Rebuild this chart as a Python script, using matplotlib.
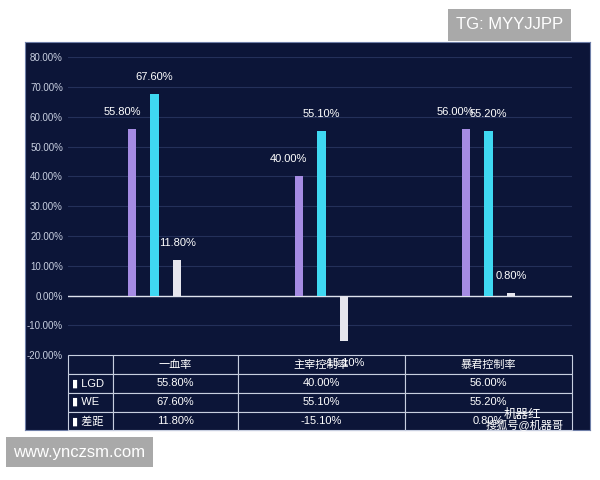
import matplotlib.pyplot as plt
import numpy as np

plt.rcParams['font.family'] = ['Liberation Sans', 'Noto Sans CJK SC', 'DejaVu Sans']

categories = ['一血率', '主宰控制率', '暴君控制率']
lgd = [55.8, 40.0, 56.0]
we = [67.6, 55.1, 55.2]
diff = [11.8, -15.1, 0.8]
series = ['LGD', 'WE', '差距']
colors = ['#a58be3', '#3fd8f2', '#e6e6ee']
yticks = [-20, -10, 0, 10, 20, 30, 40, 50, 60, 70, 80]

BG = '#0c1538'
fig = plt.figure(figsize=(6, 4.8), dpi=100)
bg = fig.add_axes([0.042, 0.104, 0.942, 0.808])
bg.set_facecolor(BG)
bg.set_xticks([])
bg.set_yticks([])
for s in bg.spines.values():
    s.set_color('#6f7fa8')

ax = fig.add_axes([0.113, 0.26, 0.84, 0.621])
ax.set_facecolor('none')
x = np.arange(len(categories))
w = 0.05
offs = [-0.135, 0, 0.135]
for vals, c, o in zip([lgd, we, diff], colors, offs):
    ax.bar(x + o, vals, w, color=c, zorder=3)
    for xi, v in zip(x, vals):
        ax.text(xi + o - (0.06 if o < 0 else 0), v + (4 if v >= 0 else -6), f'{v:.2f}%',
                ha='center', va='bottom' if v >= 0 else 'top', color='white',
                fontsize=8, zorder=4)

ax.set_xlim(-0.52, 2.5)
ax.set_ylim(-20, 80)
ax.set_yticks(yticks)
ax.set_yticklabels([f'{t:.2f}%' for t in yticks], color='#c8cfe0', fontsize=7)
ax.set_xticks([])
ax.grid(axis='y', color='#24305a', lw=0.8, zorder=0)
ax.axhline(0, color='#dfe3ee', lw=1, zorder=2)
for s in ax.spines.values():
    s.set_visible(False)
ax.tick_params(length=0)

cell_text = [['', *categories]]
for name, vals in zip(series, [lgd, we, diff]):
    cell_text.append(['▮ ' + name, *[f'{v:.2f}%' for v in vals]])
tab = ax.table(cellText=cell_text, bbox=[0, -0.252, 1, 0.252],
               colWidths=[45, 125, 167, 167], cellLoc='center')
tab.auto_set_font_size(False)
tab.set_fontsize(8)
for (r, c), cell in tab.get_celld().items():
    cell.set_facecolor(BG)
    cell.set_edgecolor('#c8cfe0')
    cell.set_linewidth(0.8)
    cell.get_text().set_color('white')
    if c == 0 and r > 0:
        cell.get_text().set_ha('left')
        cell._loc = 'left'

fig.text(0.76, 0.948, 'TG: MYYJJPP', color='white', fontsize=12, va='center',
         bbox=dict(boxstyle='square,pad=0.5', facecolor='#a9a9a9', edgecolor='none'))
fig.text(0.022, 0.058, 'www.ynczsm.com', color='white', fontsize=12, va='center',
         bbox=dict(boxstyle='square,pad=0.45', facecolor='#a9a9a9', edgecolor='none'))
fig.text(0.84, 0.13, '机器红', color='white', fontsize=9)
fig.text(0.81, 0.108, '搜狐号@机器哥', color='white', fontsize=8)

fig.savefig('out.png', dpi=100, facecolor='white')
